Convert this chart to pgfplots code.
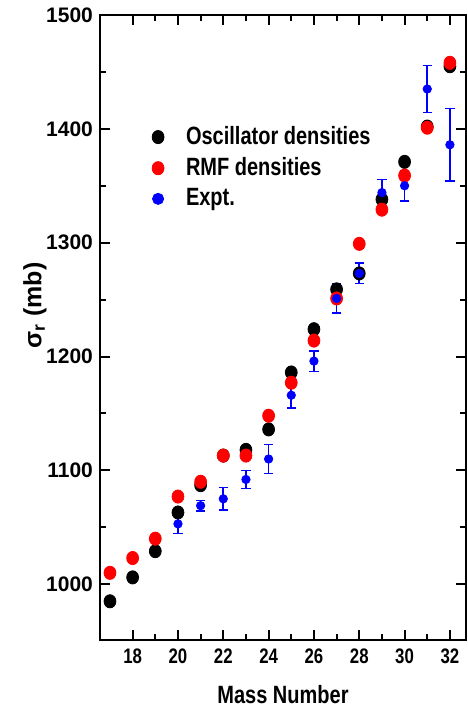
\documentclass[border=0pt]{standalone}
\usepackage{fontspec}
\setmainfont{Liberation Sans}
\newfontfamily\condfont{Liberation Sans}[FakeStretch=0.8]
\usepackage{pgfplots}
\pgfplotsset{compat=1.18}

\begin{document}
\begin{tikzpicture}
\begin{axis}[
    name=ax,
    scale only axis,
    width=183pt, height=312.5pt,
    xmin=16.56, xmax=32.71,
    ymin=951, ymax=1500,
    xtick={18,20,...,32},
    ytick={1000,1100,...,1500},
    minor x tick num=1,
    minor y tick num=1,
    major tick length=5pt,
    minor tick length=3pt,
    axis line style={line width=1pt},
    every tick/.style={line width=1pt, black},
    /pgf/number format/assume math mode=true,
    /pgf/number format/set thousands separator={},
    tick label style={font=\fontsize{10.5}{12}\selectfont\bfseries},
    xticklabel style={yshift=-1pt, font=\fontsize{10.5}{12}\selectfont\condfont\bfseries},
    xlabel={Mass Number},
    xlabel style={font=\fontsize{12.5}{14}\selectfont\condfont\bfseries,
        at={(axis description cs:0.5,-0.087)}, anchor=center, inner sep=1pt},
    ylabel={σ\textsubscript{r} (mb)},
    ylabel style={font=\fontsize{12.5}{14}\selectfont\bfseries,
        at={(axis description cs:-0.178,0.535)}, anchor=center},
    legend style={draw=none, fill=none, at={(axis description cs:0.125,0.835)},
        anchor=north west, font=\fontsize{12.5}{14}\selectfont\condfont\bfseries,
        row sep=1pt, column sep=9pt},
    legend cell align=left,
]

% --- Oscillator densities ---
\addplot[only marks, mark=*, mark size=3.3pt, color=black,
    mark options={xscale=0.9}] coordinates {
    (17,985) (18,1006) (19,1029) (20,1063) (21,1087) (22,1113)
    (23,1118) (24,1136) (25,1186) (26,1224) (27,1259) (28,1273)
    (29,1338) (30,1371) (31,1402) (32,1455)
};
\addlegendentry{Oscillator densities}

% --- RMF densities ---
\addplot[only marks, mark=*, mark size=3.3pt, color=red,
    mark options={xscale=0.9}] coordinates {
    (17,1010) (18,1023) (19,1040) (20,1077) (21,1090) (22,1113)
    (23,1113) (24,1148) (25,1177) (26,1214) (27,1251) (28,1299)
    (29,1329) (30,1359) (31,1401) (32,1458)
};
\addlegendentry{RMF densities}

% --- Experiment ---
\addplot[only marks, mark=*, mark size=2.1pt, color=blue,
    legend image post style={mark size=2.8pt},
    error bars/.cd, y dir=both, y explicit,
    error bar style={line width=0.8pt, blue},
    error mark options={rotate=90, mark size=2.3pt, line width=0.8pt, blue}
] coordinates {
    (20,1053) +- (0,8.5)
    (21,1069) +- (0,4.5)
    (22,1075) +- (0,10)
    (23,1092) +- (0,8)
    (24,1110) +- (0,12.7)
    (25,1166) +- (0,11)
    (26,1196) +- (0,9)
    (27,1251) +- (0,13)
    (28,1273) +- (0,9)
    (29,1344) +- (0,11.5)
    (30,1350) +- (0,13.5)
    (31,1435) +- (0,20.5)
    (32,1386) +- (0,32)
};
\addlegendentry{Expt.}

\end{axis}
\pgfresetboundingbox
\path ([xshift=-50pt,yshift=-34pt]ax.south west) rectangle ([xshift=0.5pt,yshift=7.5pt]ax.north east);
\end{tikzpicture}
\end{document}
